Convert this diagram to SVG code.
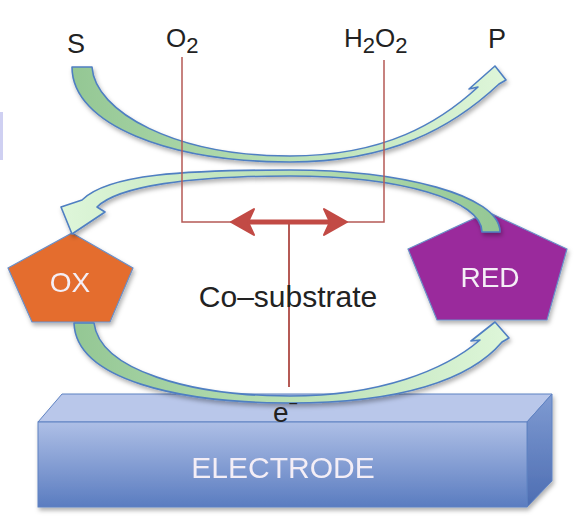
<svg xmlns="http://www.w3.org/2000/svg" width="580" height="524" viewBox="0 0 580 524">
<defs>
<style>
.lbl{font-family:"Liberation Sans",Arial,sans-serif;fill:#222;}
.wt{font-family:"Liberation Sans",Arial,sans-serif;fill:#f4eef6;text-anchor:middle;}
.arrow{stroke:#4f7fc2;stroke-width:1.6;stroke-linejoin:round;filter:url(#sh);}
.thin{stroke:#b55a55;stroke-width:1.5;fill:none;}
</style>
<filter id="sh" x="-10%" y="-10%" width="120%" height="130%">
<feDropShadow dx="1.5" dy="3" stdDeviation="2" flood-color="#000" flood-opacity="0.3"/>
</filter>
<linearGradient id="g1" x1="72" y1="0" x2="505" y2="0" gradientUnits="userSpaceOnUse">
<stop offset="0" stop-color="#94c794"/><stop offset="0.5" stop-color="#b9e0b5"/><stop offset="1" stop-color="#def6d9"/>
</linearGradient>
<linearGradient id="g2" x1="500" y1="0" x2="64" y2="0" gradientUnits="userSpaceOnUse">
<stop offset="0" stop-color="#94c794"/><stop offset="0.5" stop-color="#b9e0b5"/><stop offset="1" stop-color="#def6d9"/>
</linearGradient>
<linearGradient id="g3" x1="74" y1="0" x2="508" y2="0" gradientUnits="userSpaceOnUse">
<stop offset="0" stop-color="#94c794"/><stop offset="0.5" stop-color="#b9e0b5"/><stop offset="1" stop-color="#def6d9"/>
</linearGradient>
<linearGradient id="front" x1="0" y1="0" x2="0" y2="1">
<stop offset="0" stop-color="#aebfe6"/><stop offset="1" stop-color="#5a7cc0"/>
</linearGradient>
<linearGradient id="side" x1="0" y1="0" x2="0" y2="1">
<stop offset="0" stop-color="#7f9bd2"/><stop offset="1" stop-color="#4d6db2"/>
</linearGradient>
</defs>
<rect width="580" height="524" fill="#ffffff"/>
<rect x="0" y="112" width="3" height="48" fill="#cfd0f2"/>

<g id="electrode" filter="url(#sh)">
<polygon points="38,422 62,394 552,394 527,422" fill="#b9c7ea" stroke="#5f82c2" stroke-width="1"/>
<polygon points="527,422 552,394 552,481 527,507" fill="url(#side)" stroke="#5f82c2" stroke-width="1"/>
<rect x="38" y="422" width="489" height="85" fill="url(#front)" stroke="#5f82c2" stroke-width="1"/>
<text class="wt" x="283" y="478" font-size="30" fill="#e2e9f7">ELECTRODE</text>
</g>

<g id="OX" filter="url(#sh)">
<polygon points="72,233 133,268 110,322 32,322 8,268" fill="#e46d2d" stroke="#6a8fc8" stroke-width="1.2"/>
<text class="wt" x="70" y="292" font-size="28">OX</text>
</g>
<g id="RED" filter="url(#sh)">
<polygon points="488,212 567,249 547,320 437,320 408,249" fill="#9a2a9c" stroke="#6a8fc8" stroke-width="1.2"/>
<text class="wt" x="490" y="287" font-size="28">RED</text>
</g>

<g id="connectors">
<!-- S to P arrow -->
<path class="arrow" fill="url(#g1)" d="M72,67 C72,125 170,162 290,162 C390,162 452,128 499,84 L506,80 L495,66 L469,89 L478,87 C440,122 385,156 290,156 C175,156 95,112 92,67 Z"/>
<!-- RED to OX arrow -->
<path class="arrow" fill="url(#g2)" d="M500,232 C500,195 400,170 290,170 C185,170 108,174 82,200 L61,207 L72,234 L105,212 L97,207 C118,186 190,176 290,176 C400,176 482,200 482,232 Z"/>
<!-- OX to RED arrow -->
<path class="arrow" fill="url(#g3)" d="M74,323 C76,380 180,403 290,403 C400,403 470,380 502,342 L509,338 L495,322 L471,341 L480,340 C445,370 380,396 290,396 C190,396 100,370 94,323 Z"/>
<!-- co-substrate lines -->
<polyline class="thin" points="182,57 182,222 384,222 384,60"/>
<line x1="289" y1="222" x2="289" y2="387" stroke="#b55a55" stroke-width="2"/>
<line x1="244" y1="222" x2="335" y2="222" stroke="#c24a45" stroke-width="5"/>
<path d="M231,222 L254,209 L248,222 L254,235 Z" fill="#c24a45" stroke="#c24a45" stroke-width="2" stroke-linejoin="round"/>
<path d="M347,222 L324,209 L330,222 L324,235 Z" fill="#c24a45" stroke="#c24a45" stroke-width="2" stroke-linejoin="round"/>
</g>

<g id="S"><text class="lbl" x="76" y="53" font-size="27" text-anchor="middle">S</text></g>
<g id="O2"><text class="lbl" x="166" y="47" font-size="26">O<tspan font-size="22" dy="6">2</tspan></text></g>
<g id="H2O2"><text class="lbl" x="344" y="47" font-size="26">H<tspan font-size="22" dy="6">2</tspan><tspan dy="-6">O</tspan><tspan font-size="22" dy="6">2</tspan></text></g>
<g id="P"><text class="lbl" x="497" y="48" font-size="27" text-anchor="middle">P</text></g>
<g id="cosubstrate"><text class="lbl" x="288" y="307" font-size="30" text-anchor="middle">Co–substrate</text></g>
<g id="electron"><text class="lbl" x="273" y="422" font-size="28">e<tspan font-size="16" dy="-13">−</tspan></text></g>
</svg>
